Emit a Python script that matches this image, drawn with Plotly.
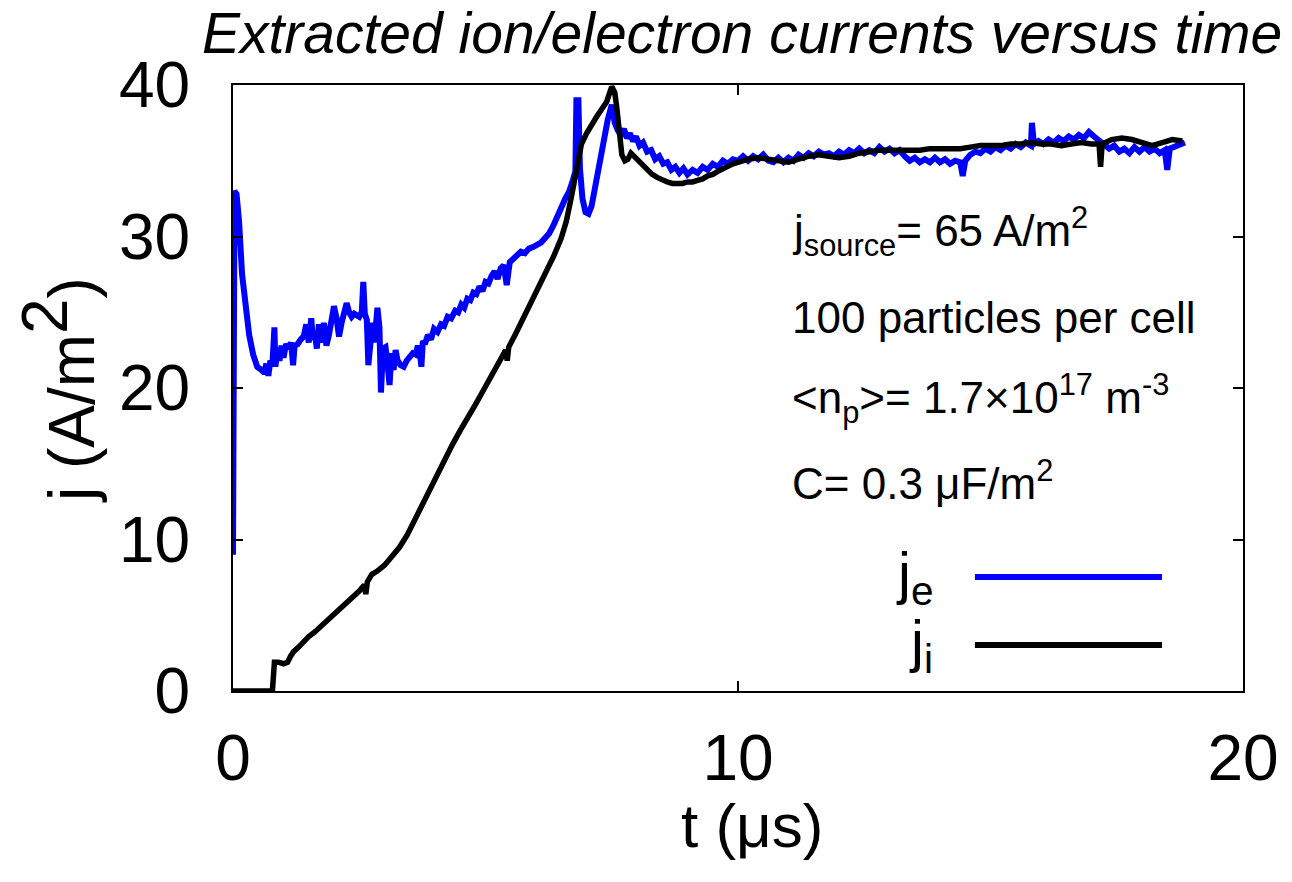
import plotly.graph_objects as go

# ---- data ----
t_e = [0.00, 0.03, 0.07, 0.12, 0.18, 0.25, 0.32, 0.40, 0.48, 0.56, 0.62, 0.66, 0.70, 0.74, 0.78,
       0.82, 0.84, 0.88, 0.92, 0.96, 1.00, 1.05, 1.10, 1.15, 1.19, 1.22, 1.28, 1.34, 1.40, 1.45,
       1.50, 1.55, 1.58, 1.62, 1.66, 1.70, 1.75, 1.80, 1.85, 1.90, 1.95, 2.00, 2.05, 2.10, 2.15,
       2.20, 2.25, 2.30, 2.35, 2.40, 2.45, 2.50, 2.55, 2.58, 2.61, 2.65, 2.68, 2.72, 2.76, 2.80,
       2.86, 2.90, 2.93, 2.97, 3.02, 3.06, 3.10, 3.14, 3.18, 3.22, 3.26, 3.32, 3.38, 3.44, 3.50,
       3.56, 3.62, 3.66, 3.70, 3.73, 3.76, 3.80, 3.86, 3.92, 3.98, 4.05, 4.12, 4.18, 4.25, 4.32,
       4.40, 4.46, 4.52, 4.58, 4.64, 4.70, 4.76, 4.82, 4.88, 4.94, 5.00, 5.06, 5.12, 5.18, 5.24,
       5.30, 5.36, 5.42, 5.48, 5.55, 5.62, 5.70, 5.78, 5.86, 5.94, 6.02, 6.10, 6.18, 6.26, 6.34,
       6.42, 6.50, 6.58, 6.66, 6.72, 6.78, 6.80, 6.84, 6.87, 6.92, 6.98, 7.04, 7.10, 7.18, 7.26,
       7.34, 7.42, 7.50, 7.56, 7.62, 7.68, 7.74, 7.80, 7.86, 7.92, 7.98, 8.05, 8.12, 8.20, 8.28,
       8.36, 8.44, 8.52, 8.60, 8.68, 8.76, 8.84, 8.92, 9.00, 9.10, 9.20, 9.30, 9.40, 9.50, 9.60,
       9.70, 9.80, 9.90, 10.0, 10.1, 10.2, 10.3, 10.4, 10.5, 10.6, 10.7, 10.8, 10.9, 11.0, 11.1,
       11.2, 11.3, 11.4, 11.5, 11.6, 11.7, 11.8, 11.9, 12.0, 12.1, 12.2, 12.3, 12.4, 12.5, 12.6,
       12.7, 12.8, 12.9, 13.0, 13.1, 13.2, 13.3, 13.4, 13.5, 13.6, 13.7, 13.8, 13.9, 14.0, 14.1,
       14.2, 14.3, 14.4, 14.45, 14.5, 14.6, 14.7, 14.8, 14.9, 15.0, 15.1, 15.2, 15.3, 15.4, 15.5,
       15.6, 15.7, 15.8, 15.82, 15.86, 15.95, 16.05, 16.15, 16.25, 16.35, 16.45, 16.55, 16.65,
       16.75, 16.85, 16.95, 17.05, 17.15, 17.25, 17.35, 17.45, 17.55, 17.65, 17.75, 17.85, 17.95,
       18.05, 18.15, 18.25, 18.35, 18.45, 18.50, 18.55, 18.65, 18.75, 18.85]
j_e = [9.0, 33.0, 32.8, 31.0, 27.5, 25.0, 23.5, 22.2, 21.4, 21.2, 21.0, 21.6, 20.8, 21.8, 21.5,
       24.0, 21.4, 22.6, 21.8, 22.8, 22.0, 22.9, 22.6, 23.0, 21.5, 22.8, 22.9, 23.2, 23.4, 24.2,
       23.0, 24.6, 23.2, 23.6, 22.6, 24.2, 23.0, 24.3, 22.8, 23.5, 24.4, 25.4, 24.6, 23.4, 24.3,
       25.2, 25.6, 25.0, 24.7, 24.9, 24.8, 24.7, 25.0, 27.0, 24.9, 24.5, 21.5, 23.5, 24.3, 23.0,
       25.3, 24.0, 19.7, 22.6, 22.7, 21.6, 20.2, 22.3, 21.2, 22.5, 21.8, 21.5, 21.4, 21.8, 22.1,
       22.3, 22.2, 22.8, 22.4, 21.4, 23.1, 22.9, 23.5, 23.2, 23.9, 23.7, 24.2, 24.1, 24.7, 24.6,
       25.1, 25.0, 25.5, 25.3, 25.9, 25.8, 26.3, 26.2, 26.7, 26.4, 27.0, 26.9, 27.4, 27.7, 27.2,
       27.9, 28.1, 26.8, 28.3, 28.5, 28.7, 29.0, 28.9, 29.2, 29.3, 29.4, 29.6, 29.9, 30.2, 30.7,
       31.4, 31.9, 32.5, 33.0, 33.6, 34.3, 39.0, 39.0, 34.5, 32.5, 31.6, 31.5, 32.0, 33.5, 35.0,
       36.5, 37.7, 38.7, 37.5, 37.0, 36.7, 37.1, 36.5, 36.8, 36.3, 36.6, 36.0, 36.2, 35.6, 35.7,
       35.1, 35.3, 34.8, 34.9, 34.4, 34.6, 34.2, 34.5, 34.1, 34.4, 34.2, 34.6, 34.4, 34.8, 34.6,
       35.0, 34.8, 35.1, 35.0, 35.3, 35.0, 35.3, 35.1, 35.4, 35.0, 34.9, 35.2, 34.9, 35.2, 35.0,
       35.4, 35.2, 35.5, 35.3, 35.6, 35.4, 35.5, 35.3, 35.6, 35.4, 35.7, 35.5, 35.8, 35.5, 35.7,
       35.5, 35.9, 35.6, 35.8, 35.5, 35.7, 35.3, 35.0, 35.2, 34.9, 35.1, 34.9, 35.2, 34.9, 35.1,
       34.8, 35.0, 34.9, 34.0, 35.0, 35.4, 35.6, 35.5, 35.8, 35.6, 35.9, 35.7, 36.0, 35.8, 36.1,
       35.9, 36.2, 36.0, 37.5, 36.1, 36.3, 36.1, 36.4, 36.2, 36.5, 36.3, 36.6, 36.4,
       36.7, 36.5, 36.9, 36.6, 36.3, 36.0, 35.8, 36.0, 35.6, 35.8, 35.5, 35.9, 35.6,
       35.9, 35.6, 35.8, 35.5, 35.7, 34.4, 35.8, 35.9, 36.1, 36.2]

t_i = [0.00, 0.78, 0.82, 0.90, 1.00, 1.08, 1.14, 1.20, 1.30, 1.40, 1.50, 1.62, 1.75, 1.90, 2.05,
       2.20, 2.35, 2.50, 2.60, 2.63, 2.66, 2.75, 2.85, 3.00, 3.15, 3.30, 3.45, 3.60, 3.75, 3.90,
       4.05, 4.20, 4.35, 4.50, 4.65, 4.80, 4.95, 5.10, 5.25, 5.40, 5.43, 5.46, 5.60, 5.75, 5.90,
       6.05, 6.20, 6.35, 6.50, 6.60, 6.70, 6.80, 6.90, 7.00, 7.10, 7.20, 7.30, 7.40, 7.50, 7.56,
       7.60, 7.65, 7.70, 7.76, 7.82, 7.88, 7.94, 8.00, 8.10, 8.20, 8.30, 8.40, 8.50, 8.60, 8.70,
       8.80, 8.90, 9.00, 9.10, 9.20, 9.30, 9.40, 9.50, 9.60, 9.70, 9.80, 9.90, 10.0, 10.2, 10.4,
       10.6, 10.8, 11.0, 11.2, 11.4, 11.6, 11.8, 12.0, 12.2, 12.4, 12.6, 12.8, 13.0, 13.2, 13.4,
       13.6, 13.8, 14.0, 14.2, 14.4, 14.6, 14.8, 15.0, 15.2, 15.4, 15.6, 15.8, 16.0, 16.2, 16.4,
       16.6, 16.8, 17.0, 17.15, 17.18, 17.21, 17.4, 17.6, 17.8, 18.0, 18.2, 18.4, 18.6, 18.8]
j_i = [0.0, 0.0, 1.9, 1.9, 1.8, 1.9, 2.3, 2.6, 2.9, 3.3, 3.6, 3.9, 4.3, 4.7, 5.1,
       5.6, 6.1, 6.6, 7.0, 6.4, 7.2, 7.7, 7.9, 8.3, 8.9, 9.5, 10.3, 11.3, 12.4, 13.4,
       14.4, 15.3, 16.3, 17.2, 18.0, 18.9, 19.8, 20.7, 21.6, 22.5, 21.8, 22.7, 23.6, 24.6, 25.6,
       26.6, 27.6, 28.7, 29.9, 31.0, 32.6, 34.4, 36.1, 36.8, 37.4, 37.9, 38.4, 38.9, 39.9, 39.5,
       38.5, 36.5, 35.4, 35.0, 35.1, 35.5, 35.3, 35.0, 34.7, 34.4, 34.1, 33.9, 33.7, 33.6, 33.5,
       33.5, 33.5, 33.6, 33.6, 33.7, 33.8, 34.0, 34.1, 34.3, 34.5, 34.6, 34.8, 34.9, 35.1, 35.2,
       35.1, 35.0, 34.9, 35.1, 35.3, 35.4, 35.3, 35.2, 35.3, 35.5, 35.6, 35.7, 35.7, 35.7, 35.7,
       35.7, 35.8, 35.8, 35.8, 35.8, 35.9, 36.0, 36.0, 36.0, 36.1, 36.1, 36.2, 36.1, 36.1, 36.0,
       36.1, 36.2, 36.1, 36.1, 34.6, 36.1, 36.4, 36.5, 36.4, 36.2, 36.0, 36.2, 36.4, 36.3]

x_ticks = [0, 10, 20]
y_ticks = [0, 10, 20, 30, 40]
title_text = "Extracted ion/electron currents versus time"
info_lines = [
    "j<sub>source</sub>= 65 A/m<sup>2</sup>",
    "100 particles per cell",
    "&lt;n<sub>p</sub>&gt;= 1.7×10<sup>17</sup> m<sup>-3</sup>",
    "C= 0.3 μF/m<sup>2</sup>",
]
legend_names = ["j<sub>e</sub>", "j<sub>i</sub>"]
colors = ["#0000ff", "#000000"]

FONT = "Liberation Sans, Arial, Helvetica, sans-serif"

fig = go.Figure()
fig.add_trace(go.Scatter(x=t_e, y=j_e, mode="lines", line=dict(color=colors[0], width=6),
                         showlegend=False))
fig.add_trace(go.Scatter(x=t_i, y=j_i, mode="lines", line=dict(color=colors[1], width=5.5),
                         showlegend=False))

axis_common = dict(showline=True, linecolor="black", linewidth=2, mirror="ticks",
                   ticks="inside", ticklen=10, tickwidth=2, tickcolor="black",
                   showgrid=False, zeroline=False,
                   tickfont=dict(family=FONT, size=64, color="black"))
fig.update_xaxes(range=[0, 20], tickvals=x_ticks, ticklabelstandoff=10, **axis_common)
fig.update_yaxes(range=[0, 40], tickvals=y_ticks, ticklabelstandoff=28, **axis_common)

ann = []
ann.append(dict(text=title_text, x=0.5036, y=1.085, xref="paper", yref="paper",
                xanchor="center", yanchor="middle", showarrow=False,
                font=dict(family=FONT, size=57, color="black", style="italic")))
ann.append(dict(text="j (A/m<sup><span style='font-size:64px'>2</span></sup>)",
                x=-0.172, y=0.497, xref="paper", yref="paper", textangle=-90,
                xanchor="center", yanchor="middle", showarrow=False,
                font=dict(family=FONT, size=64, color="black")))
ann.append(dict(text="t (μs)", x=0.514, y=-0.222, xref="paper", yref="paper",
                xanchor="center", yanchor="middle", showarrow=False,
                font=dict(family=FONT, size=62, color="black")))
info_y = [0.758, 0.617, 0.482, 0.348]
for txt, yy in zip(info_lines, info_y):
    ann.append(dict(text=txt, x=0.551, y=yy, xref="paper", yref="paper",
                    xanchor="left", yanchor="middle", showarrow=False,
                    font=dict(family=FONT, size=44, color="black")))
# legend (key text left of sample, gnuplot style)
leg_y = [0.188, 0.076]
for name, yy, c in zip(legend_names, leg_y, colors):
    ann.append(dict(text=name, x=0.695, y=yy, xref="paper", yref="paper",
                    xanchor="right", yanchor="middle", showarrow=False,
                    font=dict(family=FONT, size=58, color="black")))
fig.update_layout(annotations=ann)

shapes = []
for yy, c in zip(leg_y, colors):
    shapes.append(dict(type="line", xref="paper", yref="paper", x0=0.7346, x1=0.9198,
                       y0=yy, y1=yy, line=dict(color=c, width=6)))
fig.update_layout(shapes=shapes)

fig.update_layout(width=1292, height=882, margin=dict(l=233, r=49, t=85, b=191),
                  plot_bgcolor="white", paper_bgcolor="white",
                  font=dict(family=FONT, color="black"))

fig.write_html("out.html")
